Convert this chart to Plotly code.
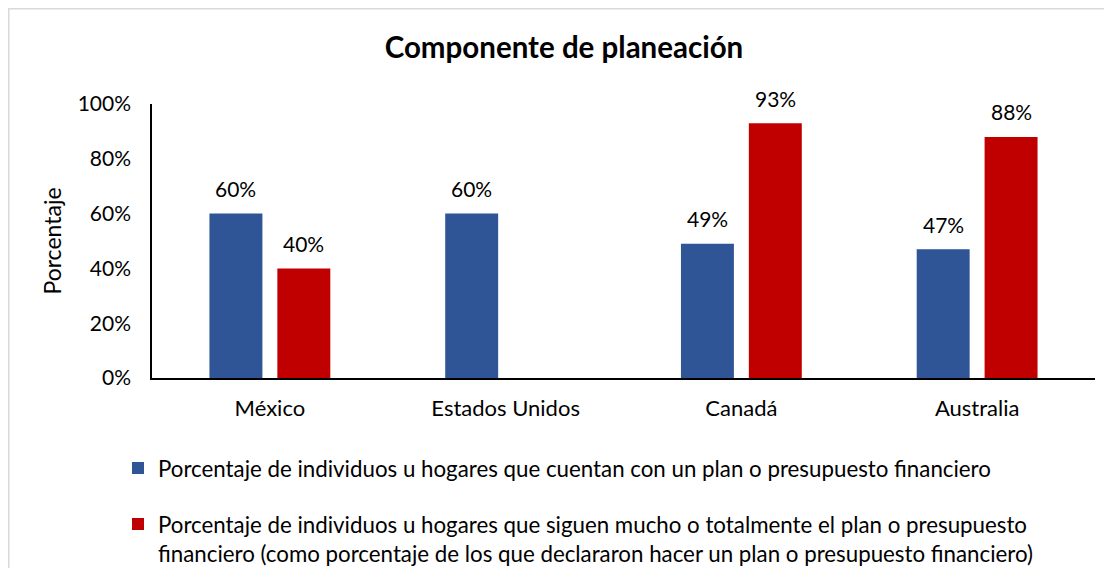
import plotly.graph_objects as go

categories = ["México", "Estados Unidos", "Canadá", "Australia"]
plan_values = [60, 60, 49, 47]
follow_values = [40, None, 93, 88]
plan_name = "Porcentaje de individuos u hogares que cuentan con un plan o presupuesto financiero"
follow_name = ("Porcentaje de individuos u hogares que siguen mucho o totalmente el plan o presupuesto<br>"
               "financiero (como porcentaje de los que declararon hacer un plan o presupuesto financiero)")
y_ticks = [0, 20, 40, 60, 80, 100]
y_tick_labels = ["0%", "20%", "40%", "60%", "80%", "100%"]

FONT = "Lato"
OFF = 8  # page body margin
W, H = 1096, 560
L, R, T, B = 144, 9, 96, 190

fig = go.Figure()
fig.add_trace(go.Bar(x=categories, y=plan_values, name=plan_name,
                     marker=dict(color="#2F5597", line=dict(width=0)), legendgroup="a"))
fig.add_trace(go.Bar(x=categories, y=follow_values, name=follow_name,
                     marker=dict(color="#C00000", line=dict(width=0)), legendgroup="b"))

pw = W - L - R
ph = H - T - B
def px_x(x):
    return (x - OFF - L) / pw
def px_y(y):
    return (H - B - (y - OFF)) / ph

bargap = 0.424
cat_px = pw / len(categories)
slot_px = cat_px * (1 - bargap) / 2

annotations = []
for series, shift in ((plan_values, -slot_px / 2), (follow_values, slot_px / 2)):
    for c, v in zip(categories, series):
        if v is None:
            continue
        annotations.append(dict(x=c, y=v, xref="x", yref="y", text=f"{v}%", showarrow=False,
                                xshift=shift, yshift=25, yanchor="middle",
                                font=dict(size=21, family=FONT, color="#000000")))

fig.update_layout(
    width=W, height=H,
    margin=dict(l=L, r=R, t=T, b=B, pad=0, autoexpand=False),
    paper_bgcolor="white", plot_bgcolor="white",
    font=dict(family=FONT, size=21, color="#000000"),
    title=dict(text="<b>Componente de planeación</b>", x=(564 - OFF) / W, xref="container",
               xanchor="center", y=1 - (48 - OFF) / H, yref="container", yanchor="middle",
               font=dict(size=29.5, family=FONT, color="#000000")),
    barmode="group", bargap=bargap, bargroupgap=0.22,
    showlegend=True,
    legend=dict(orientation="v", x=px_x(118), xref="paper", xanchor="left",
                y=px_y(447), yref="paper", yanchor="top",
                font=dict(size=22.3, family=FONT, color="#000000"),
                valign="top", traceorder="grouped", tracegroupgap=24,
                itemwidth=30, bgcolor="rgba(0,0,0,0)"),
    annotations=annotations,
    shapes=[dict(type="rect", xref="paper", yref="paper",
                 x0=px_x(OFF + 0.75), x1=px_x(1130), y0=px_y(600), y1=px_y(OFF + 0.75),
                 line=dict(color="#D9D9D9", width=1.5), fillcolor="rgba(0,0,0,0)",
                 layer="below")],
)
fig.update_xaxes(showline=True, linecolor="#000000", linewidth=1.5, showgrid=False,
                 ticks="", tickfont=dict(size=22, family=FONT), ticklabelstandoff=10,
                 automargin=False)
fig.update_yaxes(range=[0, 100], tickvals=y_ticks, ticktext=y_tick_labels, showline=True,
                 linecolor="#000000", linewidth=1.5, showgrid=False, zeroline=False,
                 ticks="", ticklabelstandoff=15, tickfont=dict(size=21, family=FONT),
                 automargin=False,
                 title=dict(text="Porcentaje", font=dict(size=23, family=FONT), standoff=10))

fig.write_html("out.html")
